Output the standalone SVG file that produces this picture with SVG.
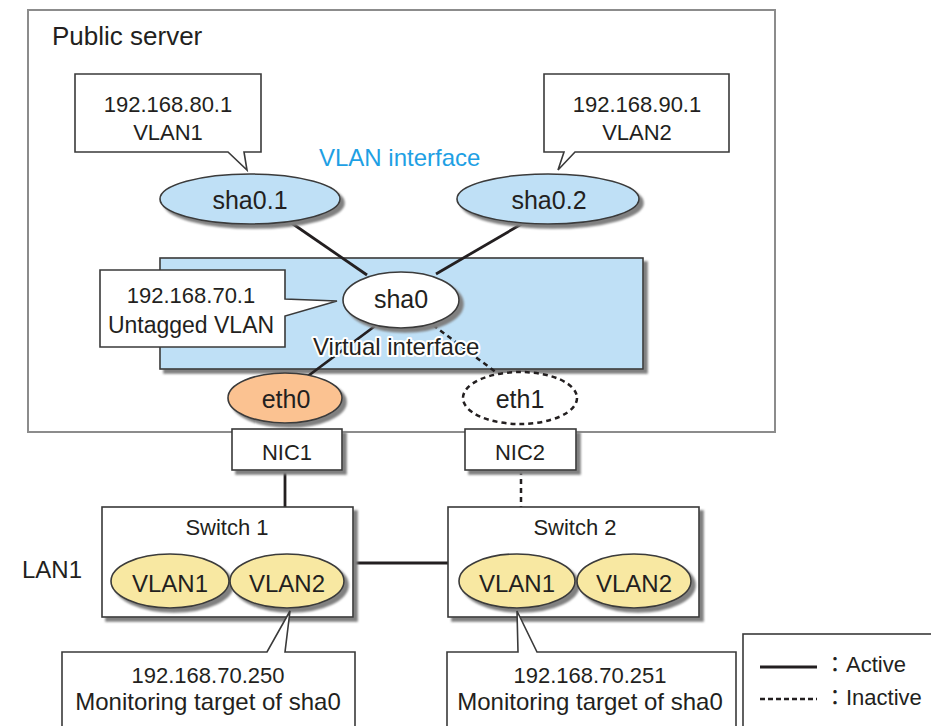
<svg xmlns="http://www.w3.org/2000/svg" width="931" height="726" viewBox="0 0 931 726">
<defs>
<filter id="sh" x="-10%" y="-10%" width="130%" height="150%">
<feGaussianBlur in="SourceAlpha" stdDeviation="1.2"/>
<feOffset dx="4" dy="4" result="b"/>
<feFlood flood-color="#808080"/>
<feComposite in2="b" operator="in"/>
<feMerge><feMergeNode/><feMergeNode in="SourceGraphic"/></feMerge>
</filter>
<style>
text{font-family:"Liberation Sans",Arial,sans-serif;fill:#231f20}
.c{text-anchor:middle}
.box{fill:#fff;stroke:#3a3a3a;stroke-width:1.6}
.ln{fill:none;stroke:#231f20;stroke-width:2.8}
.dl{fill:none;stroke:#231f20;stroke-width:2.5;stroke-dasharray:5 4}
.blue{fill:#bfe0f6;stroke:#3a3a3a;stroke-width:1.6}
.yel{fill:#f8e8a2;stroke:#3a3a3a;stroke-width:1.6}
</style>
</defs>
<rect width="931" height="726" fill="#fff"/>

<g id="public-server">
<rect x="28" y="10" width="747" height="422" fill="#fff" stroke="#8c8c8c" stroke-width="2"/>
<text x="52" y="45" font-size="26">Public server</text>
</g>

<g id="virtual-interface">
<rect class="blue" x="160" y="258" width="483" height="111" filter="url(#sh)"/>
</g>

<g id="connectors">
<path class="ln" d="M290,222 L367,275"/>
<path class="ln" d="M525,222 L436,274"/>
<path class="ln" d="M375,326 L308,376"/>
<path class="dl" d="M433,325 L497,373"/>
<path class="ln" d="M285,470 V507"/>
<path class="dl" d="M521,470 V507"/>
<path class="ln" d="M353,563 H448"/>
</g>

<g id="virtual-interface-label">
<text x="313" y="355" font-size="24" stroke="#fff" stroke-width="4" paint-order="stroke" stroke-linejoin="round">Virtual interface</text>
</g>

<g id="vlan-interface-label">
<text x="319" y="166" font-size="24" style="fill:#1ea0e4">VLAN interface</text>
</g>

<g id="sha0-1">
<ellipse class="blue" cx="250" cy="199" rx="90" ry="25" filter="url(#sh)"/>
<text class="c" x="250" y="209" font-size="25">sha0.1</text>
</g>

<g id="sha0-2">
<ellipse class="blue" cx="548" cy="199" rx="91" ry="25" filter="url(#sh)"/>
<text class="c" x="549" y="209" font-size="25">sha0.2</text>
</g>

<g id="sha0">
<ellipse cx="401" cy="300" rx="58" ry="28" fill="#fff" stroke="#3a3a3a" stroke-width="1.6" filter="url(#sh)"/>
<text class="c" x="401" y="308" font-size="25">sha0</text>
</g>

<g id="eth0">
<ellipse cx="285" cy="398" rx="57" ry="25" fill="#fbc291" stroke="#3a3a3a" stroke-width="1.6" filter="url(#sh)"/>
<text class="c" x="286" y="408" font-size="25">eth0</text>
</g>

<g id="eth1">
<ellipse cx="520" cy="398" rx="57" ry="26" fill="#fff" stroke="#231f20" stroke-width="2.5" stroke-dasharray="5 4"/>
<text class="c" x="520" y="408" font-size="25">eth1</text>
</g>

<g id="callout-vlan1">
<path class="box" d="M75,74 H261 V152 H244 L247,170 L228,152 H75 Z"/>
<text class="c" x="168" y="112" font-size="22">192.168.80.1</text>
<text class="c" x="168" y="140" font-size="22">VLAN1</text>
</g>

<g id="callout-vlan2">
<path class="box" d="M544,74 H729 V152 H575 L558,170 L564,152 H544 Z"/>
<text class="c" x="637" y="112" font-size="22">192.168.90.1</text>
<text class="c" x="637" y="140" font-size="22">VLAN2</text>
</g>

<g id="callout-untagged">
<path class="box" d="M100,270 H285 V299 L337,301 L285,316 V347 H100 Z"/>
<text class="c" x="191" y="303" font-size="22">192.168.70.1</text>
<text class="c" x="191" y="333" font-size="23">Untagged VLAN</text>
</g>

<g id="nic1">
<rect class="box" x="232" y="429" width="110" height="41" filter="url(#sh)"/>
<text class="c" x="287" y="460" font-size="22">NIC1</text>
</g>

<g id="nic2">
<rect class="box" x="465" y="429" width="111" height="41" filter="url(#sh)"/>
<text class="c" x="520" y="460" font-size="22">NIC2</text>
</g>

<g id="lan1-label">
<text x="22" y="578" font-size="24">LAN1</text>
</g>

<g id="switch1">
<rect class="box" x="102" y="507" width="251" height="110" filter="url(#sh)"/>
<text class="c" x="227" y="535" font-size="22">Switch 1</text>
<ellipse class="yel" cx="170" cy="581" rx="59" ry="27" filter="url(#sh)"/>
<text class="c" x="170" y="592" font-size="24">VLAN1</text>
<ellipse class="yel" cx="287" cy="581" rx="57" ry="27" filter="url(#sh)"/>
<text class="c" x="287" y="592" font-size="24">VLAN2</text>
</g>

<g id="switch2">
<rect class="box" x="448" y="507" width="251" height="110" filter="url(#sh)"/>
<text class="c" x="575" y="535" font-size="22">Switch 2</text>
<ellipse class="yel" cx="517" cy="581" rx="58" ry="27" filter="url(#sh)"/>
<text class="c" x="517" y="592" font-size="24">VLAN1</text>
<ellipse class="yel" cx="634" cy="581" rx="57" ry="27" filter="url(#sh)"/>
<text class="c" x="634" y="592" font-size="24">VLAN2</text>
</g>

<g id="callout-target1">
<path class="box" d="M62,740 V652 H267 L290,611 L285,652 H355 V740 Z"/>
<text class="c" x="208" y="683" font-size="22">192.168.70.250</text>
<text class="c" x="208" y="710" font-size="24">Monitoring target of sha0</text>
</g>

<g id="callout-target2">
<path class="box" d="M447,740 V652 H518 L517,611 L537,652 H736 V740 Z"/>
<text class="c" x="590" y="683" font-size="22">192.168.70.251</text>
<text class="c" x="590" y="710" font-size="24">Monitoring target of sha0</text>
</g>

<g id="legend">
<rect class="box" x="743" y="634" width="200" height="100"/>
<path class="ln" d="M760,667 H817"/>
<path fill="none" stroke="#231f20" stroke-width="2.5" stroke-dasharray="5 3" d="M760,699 H817"/>
<text x="824" y="672" font-size="22" style="font-family:'Liberation Sans','Noto Sans CJK JP',sans-serif">：Active</text>
<text x="824" y="705" font-size="22" style="font-family:'Liberation Sans','Noto Sans CJK JP',sans-serif">：Inactive</text>
</g>
</svg>
